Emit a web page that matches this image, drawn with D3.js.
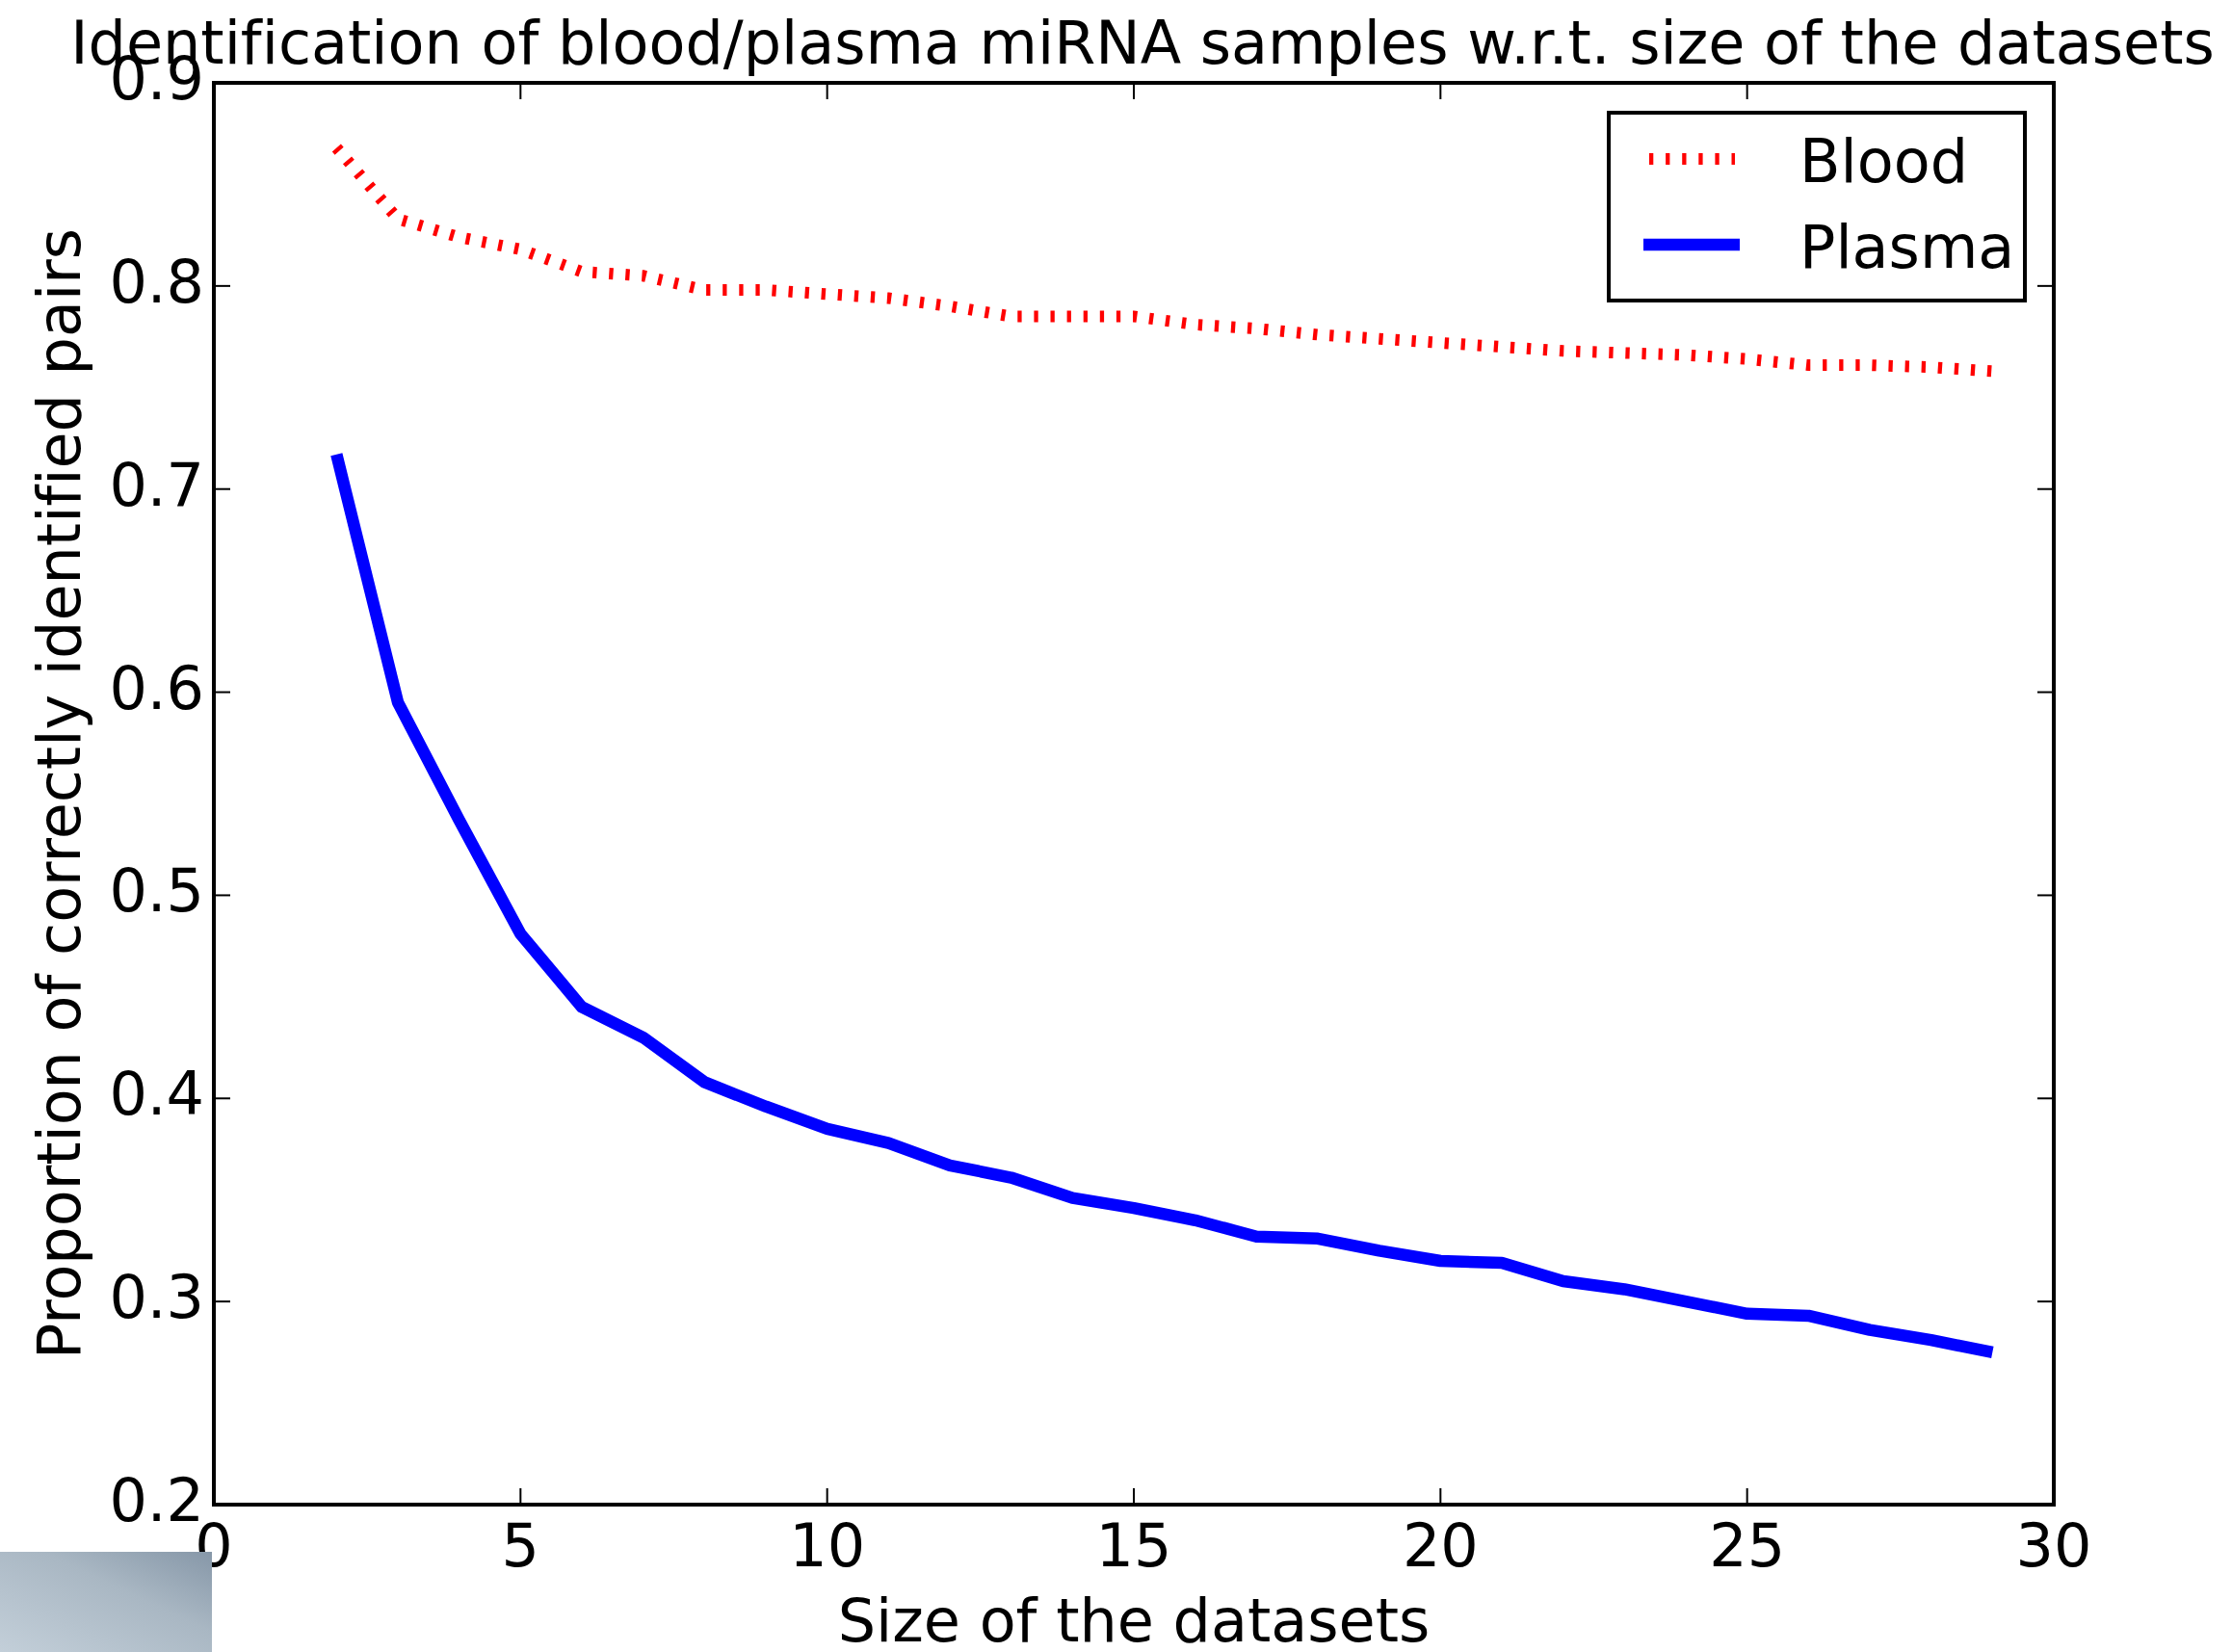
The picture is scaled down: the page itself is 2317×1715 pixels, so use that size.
<!DOCTYPE html>
<html>
<head>
<meta charset="utf-8">
<script src="https://cdn.jsdelivr.net/npm/d3@7"></script>
<style>
  html, body { margin: 0; padding: 0; background: #fff; }
  text { font-family: "DejaVu Sans", sans-serif; fill: #000; font-variant-ligatures: none; }
</style>
</head>
<body>
<div id="chart"></div>
<script>
let width = 2317;
let height = 1715;
let margin = { top: 86, right: 185, bottom: 153, left: 222 };

// data
let sizes = [2, 3, 4, 5, 6, 7, 8, 9, 10, 11, 12, 13, 14, 15, 16, 17, 18, 19, 20, 21, 22, 23, 24, 25, 26, 27, 28, 29];
let bloodValues = [0.868, 0.833, 0.824, 0.818, 0.807, 0.805, 0.798, 0.798, 0.796, 0.794, 0.790, 0.785, 0.785, 0.785,
  0.781, 0.779, 0.776, 0.774, 0.772, 0.770, 0.768, 0.767, 0.766, 0.764, 0.761, 0.761, 0.760, 0.758];
let plasmaValues = [0.717, 0.595, 0.537, 0.481, 0.445, 0.430, 0.408, 0.396, 0.385, 0.378, 0.367, 0.361, 0.351, 0.346,
  0.340, 0.332, 0.331, 0.325, 0.320, 0.319, 0.310, 0.306, 0.300, 0.294, 0.293, 0.286, 0.281, 0.275];
let seriesNames = ["Blood", "Plasma"];
let xTicks = [0, 5, 10, 15, 20, 25, 30];
let yTicks = [0.2, 0.3, 0.4, 0.5, 0.6, 0.7, 0.8, 0.9];

let fontSize = 62;

let svg = d3.select("#chart").append("svg").attr("width", width).attr("height", height);

let xScale = d3.scaleLinear().domain([0, 30]).range([margin.left, width - margin.right]);
let yScale = d3.scaleLinear().domain([0.2, 0.9]).range([height - margin.bottom, margin.top]);

let x0 = xScale.range()[0], x1 = xScale.range()[1];
let y0 = yScale.range()[0], y1 = yScale.range()[1];

// ticks on all four sides, pointing inward
let tickLen = 17;
let ticks = svg.append("g").attr("stroke", "#000").attr("stroke-width", 2);
xTicks.forEach(function (t) {
  ticks.append("line").attr("x1", xScale(t)).attr("x2", xScale(t)).attr("y1", y0).attr("y2", y0 - tickLen);
  ticks.append("line").attr("x1", xScale(t)).attr("x2", xScale(t)).attr("y1", y1).attr("y2", y1 + tickLen);
});
yTicks.forEach(function (t) {
  ticks.append("line").attr("x1", x0).attr("x2", x0 + tickLen).attr("y1", yScale(t)).attr("y2", yScale(t));
  ticks.append("line").attr("x1", x1).attr("x2", x1 - tickLen).attr("y1", yScale(t)).attr("y2", yScale(t));
});

// tick labels
svg.append("g").selectAll("text")
  .data(xTicks)
  .enter()
  .append("text")
  .attr("x", function (d) { return xScale(d); })
  .attr("y", y0 + 64)
  .attr("text-anchor", "middle")
  .style("font-size", fontSize + "px")
  .text(function (d) { return d; });

svg.append("g").selectAll("text")
  .data(yTicks)
  .enter()
  .append("text")
  .attr("x", x0 - 10)
  .attr("y", function (d) { return yScale(d) + 17; })
  .attr("text-anchor", "end")
  .style("font-size", fontSize + "px")
  .text(function (d) { return d3.format(".1f")(d); });

// lines
let line = d3.line()
  .x(function (d) { return xScale(d[0]); })
  .y(function (d) { return yScale(d[1]); });

svg.append("path")
  .datum(d3.zip(sizes, bloodValues))
  .attr("fill", "none")
  .attr("stroke", "#ff0000")
  .attr("stroke-width", 12)
  .attr("stroke-dasharray", "4.3,12.8")
  .attr("stroke-linecap", "butt")
  .attr("d", line);

svg.append("path")
  .datum(d3.zip(sizes, plasmaValues))
  .attr("fill", "none")
  .attr("stroke", "#0000ff")
  .attr("stroke-width", 12.5)
  .attr("stroke-linejoin", "round")
  .attr("stroke-linecap", "butt")
  .attr("d", line);

// frame
svg.append("rect")
  .attr("x", x0).attr("y", y1)
  .attr("width", x1 - x0).attr("height", y0 - y1)
  .attr("fill", "none")
  .attr("stroke", "#000")
  .attr("stroke-width", 4);

// legend
let legend = svg.append("g");
legend.append("rect")
  .attr("x", 1670).attr("y", 117)
  .attr("width", 432).attr("height", 195)
  .attr("fill", "#fff")
  .attr("stroke", "#000")
  .attr("stroke-width", 4);
legend.append("line")
  .attr("x1", 1712).attr("x2", 1801).attr("y1", 165).attr("y2", 165)
  .attr("stroke", "#ff0000").attr("stroke-width", 12)
  .attr("stroke-dasharray", "4.3,12.8");
legend.append("line")
  .attr("x1", 1706).attr("x2", 1806).attr("y1", 254).attr("y2", 254)
  .attr("stroke", "#0000ff").attr("stroke-width", 12.5);
legend.selectAll(".legend-label")
  .data(seriesNames)
  .enter()
  .append("text")
  .attr("class", "legend-label")
  .attr("x", 1868)
  .attr("y", function (d, i) { return 189 + i * 89; })
  .style("font-size", fontSize + "px")
  .text(function (d) { return d; });

// title and axis labels
svg.append("text")
  .attr("x", (x0 + x1) / 2 + 9)
  .attr("y", 66)
  .attr("text-anchor", "middle")
  .style("font-size", fontSize + "px")
  .text("Identification of blood/plasma miRNA samples w.r.t. size of the datasets");

svg.append("text")
  .attr("x", (x0 + x1) / 2)
  .attr("y", 1704)
  .attr("text-anchor", "middle")
  .style("font-size", fontSize + "px")
  .text("Size of the datasets");

svg.append("text")
  .attr("transform", "translate(83," + ((y0 + y1) / 2) + ") rotate(-90)")
  .attr("text-anchor", "middle")
  .style("font-size", fontSize + "px")
  .text("Proportion of correctly identified pairs");

// grey corner patch in the lower left of the figure
let defs = svg.append("defs");
let grad = defs.append("linearGradient")
  .attr("id", "cornerGrad")
  .attr("x1", "0%").attr("y1", "100%")
  .attr("x2", "100%").attr("y2", "0%");
grad.append("stop").attr("offset", "0%").attr("stop-color", "#c3cfd9");
grad.append("stop").attr("offset", "60%").attr("stop-color", "#a9b7c3");
grad.append("stop").attr("offset", "100%").attr("stop-color", "#8697a8");
svg.append("rect")
  .attr("x", 0).attr("y", 1611)
  .attr("width", 220).attr("height", height - 1611)
  .attr("fill", "url(#cornerGrad)");
</script>
</body>
</html>
